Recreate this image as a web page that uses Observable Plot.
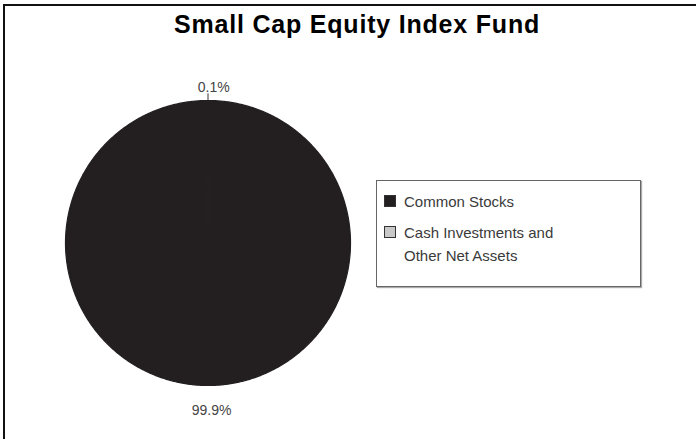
<!DOCTYPE html>
<html>
<head>
<meta charset="utf-8">
<script src="https://cdn.jsdelivr.net/npm/d3@7"></script>
<script src="https://cdn.jsdelivr.net/npm/@observablehq/plot@0.6"></script>
<style>
  html, body { margin: 0; padding: 0; background: #fff; }
  body { width: 696px; height: 439px; position: relative; overflow: hidden; font-family: "Liberation Sans", Arial, sans-serif; }
  #frame { position: absolute; left: 3px; top: 4px; width: 800px; height: 600px; border-left: 2px solid #111; border-top: 2px solid #111; }
  #title { position: absolute; left: 0; width: 714px; top: 10px; text-align: center; font-size: 25px; font-weight: bold; color: #000; letter-spacing: 0.8px; }
  #chart { position: absolute; left: 0; top: 0; }
  #legend { position: absolute; left: 376px; top: 180px; width: 263px; height: 105px; border: 1px solid #666; box-shadow: 1px 1px 1px #aaa; background: #fff; }
  .item { position: absolute; left: 7px; font-size: 15px; color: #3a3a3a; line-height: 23px; }
  .sw { position: absolute; left: 0; top: 5px; width: 10px; height: 10px; border: 1px solid #333; }
  .lab { margin-left: 20px; }
</style>
</head>
<body>
<div id="frame"></div>
<div id="chart"></div>
<div id="title">Small Cap Equity Index Fund</div>
<div id="legend"></div>
<script>
const categories = ["Common Stocks", "Cash Investments and Other Net Assets"];
const legendLines = [["Common Stocks"], ["Cash Investments and", "Other Net Assets"]];
const values = [99.9, 0.1];
const labels = ["99.9%", "0.1%"];
const colors = ["#231f20", "#c8c8c8"];

const half = Math.PI * values[1] / 100;
const arcs = d3.pie().sort(null).startAngle(half).endAngle(2 * Math.PI + half)(values);

function slicePoints(a, i) {
  const pts = [{x: 0, y: 0, k: i}];
  const n = Math.max(2, Math.ceil((a.endAngle - a.startAngle) / 0.01));
  for (let j = 0; j <= n; j++) {
    const t = a.startAngle + (a.endAngle - a.startAngle) * j / n;
    pts.push({x: Math.sin(t), y: Math.cos(t), k: i});
  }
  pts.push({x: 0, y: 0, k: i});
  return pts;
}

// small slice first, then the large one; both edged in the dark tone like the print
const order = [1, 0];
const marks = order.map(i => Plot.line(slicePoints(arcs[i], i), {
  x: "x", y: "y", fill: colors[i],
  stroke: colors[0], strokeWidth: 1.2
}));

const labelData = arcs.map((a, i) => {
  const m = (a.startAngle + a.endAngle) / 2;
  return {mx: Math.sin(m), my: Math.cos(m), label: labels[i], i};
});

// leader tick for small slice
marks.push(Plot.link([labelData[1]], {
  x1: d => d.mx, y1: d => d.my, x2: d => d.mx * 1.05, y2: d => d.my * 1.05,
  stroke: "#333", strokeWidth: 1
}));
marks.push(Plot.text(labelData, {
  x: d => d.i === 1 ? d.mx * 1.09 + 0.04 : d.mx * 1.14 + 0.025,
  y: d => d.i === 1 ? d.my * 1.09 : -1.175,
  text: "label", fontSize: 14, fill: "#444", textAnchor: "middle",
  fontFamily: "Liberation Sans, Arial, sans-serif"
}));

const plot = Plot.plot({
  width: 696, height: 439,
  margin: 0,
  x: {domain: [-1, 1], range: [65, 350], axis: null},
  y: {domain: [-1, 1], range: [385, 100], axis: null},
  style: {background: "transparent"},
  marks
});
document.getElementById("chart").appendChild(plot);

const legend = document.getElementById("legend");
const tops = [9, 40];
categories.forEach((c, i) => {
  const it = document.createElement("div");
  it.className = "item";
  it.style.top = tops[i] + "px";
  it.innerHTML = `<div class="sw" style="background:${colors[i]}"></div><div class="lab">${legendLines[i].join("<br>")}</div>`;
  legend.appendChild(it);
});
</script>
</body>
</html>
